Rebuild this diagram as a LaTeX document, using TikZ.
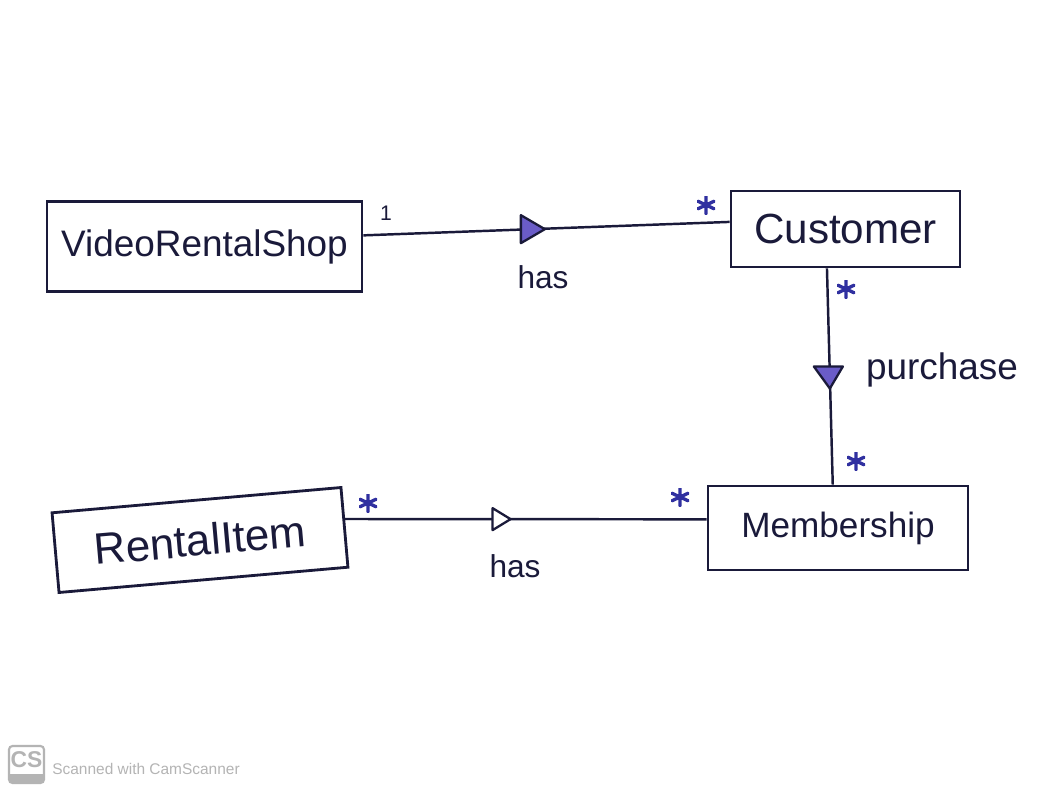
\documentclass[tikz,border=0pt]{standalone}
\usepackage{fontspec}
\setmainfont{Liberation Sans}
\usetikzlibrary{calc}
\definecolor{ink}{HTML}{1A1A3A}
\definecolor{blueink}{HTML}{3030A0}
\definecolor{trifill}{HTML}{6A5CC8}
\definecolor{wm}{HTML}{B4B4B4}
\tikzset{
  cls/.style={draw=ink, line width=1.6pt, inner sep=0pt, text=ink},
  assoc/.style={draw=ink, line width=1.4pt},
  mult/.style={inner sep=0pt, minimum size=0.36cm,
    path picture={
      \draw[blueink, line width=1.9pt, line cap=round]
        ($(path picture bounding box.center)+(90:0.18cm)$) -- ($(path picture bounding box.center)+(270:0.18cm)$)
        ($(path picture bounding box.center)+(25:0.18cm)$) -- ($(path picture bounding box.center)+(205:0.18cm)$)
        ($(path picture bounding box.center)+(155:0.18cm)$) -- ($(path picture bounding box.center)+(335:0.18cm)$);
    }},
  lbl/.style={text=ink, inner sep=0pt},
  tri/.style={draw=ink, line width=1.3pt, line join=round},
}
\begin{document}
\begin{tikzpicture}[x=0.02cm,y=-0.02cm]
\useasboundingbox[fill=white] (0,0) rectangle (1040,791);

% classes
\node[cls, minimum width=315*0.02cm, minimum height=90*0.02cm,
      font=\fontsize{21}{24}\selectfont] (vrs) at (204.5,246.5) {VideoRentalShop};
\node[cls, minimum width=229*0.02cm, minimum height=76*0.02cm,
      font=\fontsize{24}{28}\selectfont] (cust) at (845.5,229) {Customer};
\node[cls, minimum width=290*0.02cm, minimum height=80*0.02cm, rotate=5,
      font=\fontsize{25}{28}\selectfont] (ri) at (200,540) {RentalItem};
\node[cls, minimum width=260*0.02cm, minimum height=84*0.02cm,
      font=\fontsize{20}{24}\selectfont] (mem) at (838,528) {Membership};

% connection points
\coordinate (a1) at ($(vrs.north east)!0.38!(vrs.south east)$);
\coordinate (a2) at ($(cust.north west)!0.41!(cust.south west)$);
\coordinate (b1) at ($(cust.south west)!0.42!(cust.south east)$);
\coordinate (b2) at ($(mem.north west)!0.48!(mem.north east)$);
\coordinate (c1) at ($(ri.north east)!0.40!(ri.south east)$);
\coordinate (c2) at ($(mem.north west)!0.40!(mem.south west)$);

% associations
\draw[assoc] (a1) -- (a2) coordinate[pos=0.46] (t1);
\draw[assoc] (b1) -- (b2) coordinate[pos=0.50] (t3);
\draw[assoc] (c1) -- (c2) coordinate[pos=0.43] (t2);

% direction triangles
\draw[tri, fill=trifill] ($(t1)+(-11,-14)$) -- ($(t1)+(13,0)$) -- ($(t1)+(-11,14)$) -- cycle;
\draw[tri, fill=white]   ($(t2)+(-8,-11)$) -- ($(t2)+(10,0)$) -- ($(t2)+(-8,11)$) -- cycle;
\draw[tri, fill=trifill] ($(t3)+(-16,-10)$) -- ($(t3)+(13,-10)$) -- ($(t3)+(0,12)$) -- cycle;

% multiplicities
\node[lbl, font=\fontsize{12}{12}\selectfont] (m1) at (386,213) {1};
\node[mult] (m2) at (706,205) {};
\node[mult] (m3) at (846,289) {};
\node[mult] (m4) at (856,461) {};
\node[mult] (m5) at (680,497) {};
\node[mult] (m6) at (368,503) {};

% association names
\node[lbl, font=\fontsize{18}{20}\selectfont] (l1) at (543,277) {has};
\node[lbl, font=\fontsize{21}{24}\selectfont] (l2) at (942,370) {purchase};
\node[lbl, font=\fontsize{18}{20}\selectfont] (l3) at (515,566) {has};

% scanner watermark
\draw[wm, line width=1.2pt, rounded corners=2pt] (9,746) rectangle (44,783);
\fill[wm] (9,774) rectangle (44,783);
\node[text=wm, font=\bfseries\fontsize{13}{13}\selectfont, inner sep=0pt] (cs) at (26.5,760) {CS};
\node[text=wm, font=\fontsize{8.8}{10}\selectfont, inner sep=0pt, anchor=west] (scan) at (52,769) {Scanned with CamScanner};
\end{tikzpicture}
\end{document}
